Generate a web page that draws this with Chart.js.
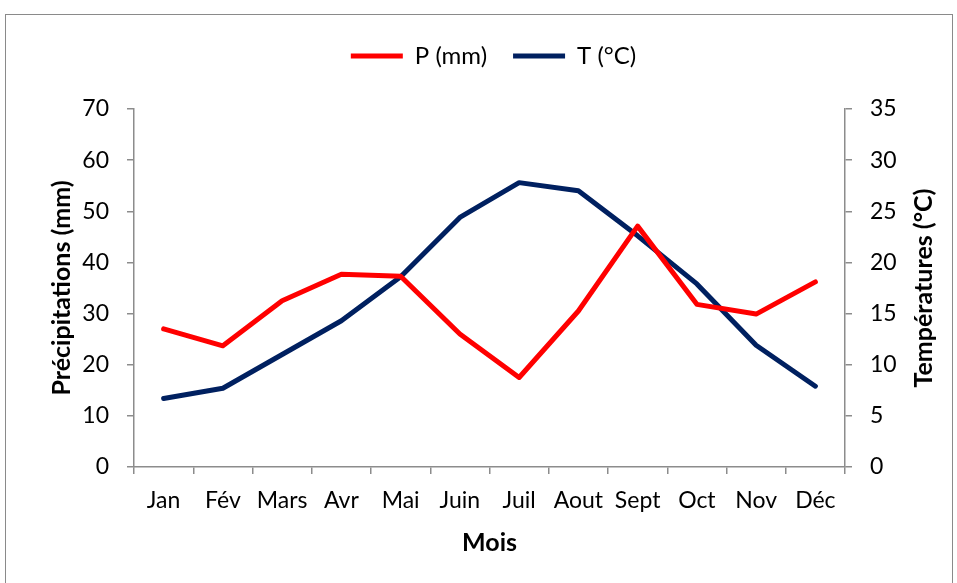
<!DOCTYPE html>
<html>
<head>
<meta charset="utf-8">
<script src="https://cdn.jsdelivr.net/npm/chart.js@4"></script>
<style>
  body { margin: 0; background: #fff; }
  #wrap { position: relative; width: 957px; height: 583px; overflow: hidden; }
  #frame { position: absolute; left: 5px; top: 14px; width: 946px; height: 620px; border: 1.5px solid #8a8a8a; }
  canvas { position: absolute; left: 0; top: 0; }
</style>
</head>
<body>
<div id="wrap">
  <div id="frame"></div>
  <canvas id="climat" width="957" height="583"></canvas>
</div>
<script>
const mois = ["Jan", "Fév", "Mars", "Avr", "Mai", "Juin", "Juil", "Aout", "Sept", "Oct", "Nov", "Déc"];
const precipitations = [27.0, 23.7, 32.5, 37.7, 37.3, 26.0, 17.5, 30.5, 47.1, 31.8, 29.9, 36.2];
const temperatures = [6.7, 7.7, 11.0, 14.3, 18.6, 24.4, 27.8, 27.0, 22.6, 17.9, 11.9, 7.9];

const axeGris = "#8c8c8c";
Chart.defaults.font.family = "Lato";
Chart.defaults.font.size = 23;
Chart.defaults.color = "#000";

// titre de droite : lu de bas en haut comme dans Excel
const titreDroite = {
    id: "titreDroite",
    afterDraw(chart) {
        const ctx = chart.ctx;
        ctx.save();
        ctx.translate(924, 288);
        ctx.rotate(-Math.PI / 2);
        ctx.font = "bold 25px Lato";
        ctx.fillStyle = "#000";
        ctx.textAlign = "center";
        ctx.textBaseline = "middle";
        ctx.fillText("Températures (°C)", 0, 0);
        ctx.restore();
    }
};

// un peu plus d'espace sous la légende
const margeLegende = {
    id: "margeLegende",
    beforeInit(chart) {
        const fit = chart.legend.fit;
        chart.legend.fit = function () {
            fit.bind(chart.legend)();
            this.height += 31;
        };
    }
};

new Chart(document.getElementById("climat"), {
    type: "line",
    data: {
        labels: mois,
        datasets: [{
            label: "P (mm)",
            data: precipitations,
            borderColor: "#ff0000",
            backgroundColor: "#ff0000",
            borderWidth: 5,
            borderCapStyle: "round",
            borderJoinStyle: "round",
            pointRadius: 0,
            tension: 0,
            yAxisID: "y"
        }, {
            label: "T (°C)",
            data: temperatures,
            borderColor: "#002060",
            backgroundColor: "#002060",
            borderWidth: 5,
            borderCapStyle: "round",
            borderJoinStyle: "round",
            pointRadius: 0,
            tension: 0,
            yAxisID: "y1"
        }]
    },
    options: {
        responsive: false,
        animation: false,
        layout: { padding: { left: 30, right: 0, top: 18, bottom: 0 } },
        plugins: {
            tooltip: { enabled: false },
            legend: {
                position: "top",
                labels: {
                    usePointStyle: true,
                    pointStyle: "line",
                    pointStyleWidth: 52,
                    padding: 26,
                    font: { size: 24 }
                }
            }
        },
        scales: {
            x: {
                offset: true,
                grid: { offset: true, drawOnChartArea: false, drawTicks: true, tickLength: 7, color: axeGris, lineWidth: 1.5 },
                border: { color: axeGris, width: 1.5 },
                ticks: { padding: 13, maxRotation: 0, autoSkip: false },
                title: { display: true, text: "Mois", font: { weight: "bold", size: 25 }, padding: { top: 0, bottom: 25 } },
                afterFit(scale) { scale.height = 116; }
            },
            y: {
                position: "left",
                min: 0, max: 70,
                ticks: { stepSize: 10, padding: 18 },
                grid: { drawOnChartArea: false, drawTicks: true, tickLength: 7, color: axeGris, lineWidth: 1.5 },
                border: { color: axeGris, width: 1.5 },
                title: { display: true, text: "Précipitations (mm)", font: { weight: "bold", size: 25 }, padding: { top: 17, bottom: 0 } },
                afterFit(scale) { scale.width = 104; }
            },
            y1: {
                position: "right",
                min: 0, max: 35,
                ticks: { stepSize: 5, padding: 18 },
                grid: { drawOnChartArea: false, drawTicks: true, tickLength: 7, color: axeGris, lineWidth: 1.5 },
                border: { color: axeGris, width: 1.5 },
                afterFit(scale) { scale.width = 112; }
            }
        }
    },
    plugins: [titreDroite, margeLegende]
});
</script>
</body>
</html>
